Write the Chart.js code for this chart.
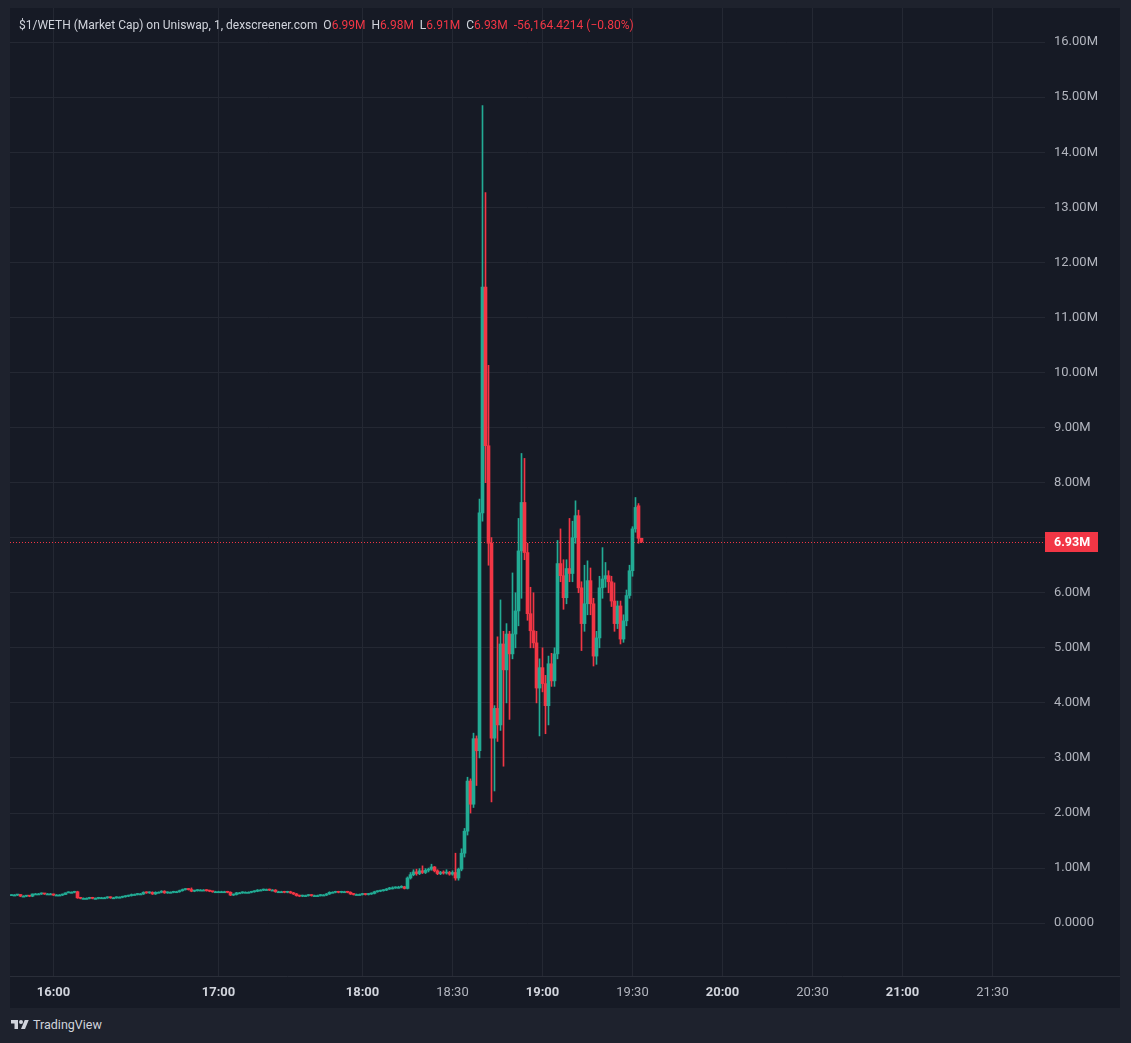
<!DOCTYPE html>
<html>
<head>
<meta charset="utf-8">
<script src="https://cdn.jsdelivr.net/npm/chart.js@4.4.1/dist/chart.umd.min.js"></script>
<style>
    html, body { margin: 0; padding: 0; background: #1e222d; }
    body { width: 1131px; height: 1043px; position: relative; overflow: hidden; font-family: Roboto, "Liberation Sans", sans-serif; }
    #panel { position: absolute; left: 10px; top: 8px; width: 1110px; height: 1000px; background: #161a25; }
    #legend { position: absolute; left: 19px; top: 18px; font-size: 12px; color: #d1d4dc; white-space: pre; z-index: 2; }
    #legend .v { color: #f23645; }
    #brand { position: absolute; left: 11px; top: 1017px; display: flex; align-items: center; gap: 4px; color: #d1d4dc; font-size: 12.5px; }
</style>
</head>
<body>
<div id="panel"><canvas id="chart"></canvas></div>
<div id="legend">$1/WETH (Market Cap) on Uniswap, 1, dexscreener.com  O<span class="v">6.99M</span>  H<span class="v">6.98M</span>  L<span class="v">6.91M</span>  C<span class="v">6.93M</span>  <span class="v">-56,164.4214 (−0.80%)</span></div>
<div id="brand">
    <svg width="18" height="13" viewBox="0 0 36 26"><path d="M14 22H7V11H0V4h14z" fill="#d1d4dc"/><circle cx="20" cy="8" r="4" fill="#d1d4dc"/><path d="M28 22h-8l7.5-18h8z" fill="#d1d4dc"/></svg>
    <span>TradingView</span>
</div>
<script>
// market cap in millions, one candle per traded minute
const opens = [
    0.50, 0.51, 0.51, 0.52, 0.49, 0.49, 0.50, 0.49, 0.53, 0.53,
    0.53, 0.54, 0.53, 0.53, 0.53, 0.51, 0.51, 0.51, 0.52, 0.55,
    0.56, 0.56, 0.57, 0.46, 0.45, 0.45, 0.45, 0.46, 0.45, 0.45,
    0.46, 0.46, 0.46, 0.47, 0.46, 0.46, 0.47, 0.47, 0.48, 0.49,
    0.50, 0.52, 0.52, 0.53, 0.53, 0.56, 0.55, 0.56, 0.53, 0.56,
    0.56, 0.58, 0.55, 0.56, 0.56, 0.57, 0.57, 0.59, 0.61, 0.62,
    0.61, 0.58, 0.59, 0.60, 0.60, 0.60, 0.59, 0.58, 0.57, 0.57,
    0.57, 0.57, 0.57, 0.56, 0.51, 0.52, 0.55, 0.55, 0.56, 0.56,
    0.56, 0.57, 0.58, 0.60, 0.60, 0.61, 0.61, 0.60, 0.60, 0.57,
    0.57, 0.57, 0.56, 0.57, 0.55, 0.53, 0.50, 0.49, 0.50, 0.50,
    0.51, 0.50, 0.50, 0.50, 0.51, 0.51, 0.53, 0.56, 0.56, 0.57,
    0.56, 0.57, 0.57, 0.56, 0.53, 0.52, 0.52, 0.52, 0.53, 0.52,
    0.53, 0.54, 0.57, 0.58, 0.59, 0.60, 0.62, 0.64, 0.64, 0.65,
    0.65, 0.66, 0.63, 0.82, 0.88, 0.93, 0.90, 0.95, 0.92, 0.96,
    0.98, 1.02, 0.95, 0.90, 0.92, 0.91, 0.92, 0.89, 0.92, 0.82,
    0.98, 1.27, 1.67, 2.58, 2.16, 3.35, 3.13, 7.45, 11.55, 8.67,
    6.90, 3.36, 3.90, 3.60, 5.07, 4.60, 5.25, 4.89, 5.25, 5.67,
    6.76, 7.64, 6.73, 5.62, 5.31, 5.09, 4.27, 4.64, 4.35, 3.95,
    4.71, 4.40, 4.89, 6.53, 6.31, 5.91, 6.44, 6.35, 7.00, 7.40,
    6.09, 5.44, 5.80, 6.22, 5.80, 4.85, 5.18, 6.09, 6.25, 6.31,
    6.20, 5.85, 5.44, 5.76, 5.16, 5.49, 5.95, 6.40, 7.16, 7.58,
    6.99,
];
const highs = [
    0.51, 0.52, 0.52, 0.52, 0.50, 0.50, 0.50, 0.53, 0.54, 0.54,
    0.55, 0.54, 0.54, 0.54, 0.53, 0.52, 0.52, 0.53, 0.55, 0.57,
    0.57, 0.58, 0.58, 0.47, 0.46, 0.46, 0.47, 0.47, 0.46, 0.47,
    0.47, 0.47, 0.48, 0.48, 0.47, 0.48, 0.48, 0.49, 0.50, 0.51,
    0.53, 0.53, 0.54, 0.54, 0.57, 0.57, 0.57, 0.57, 0.57, 0.57,
    0.59, 0.59, 0.57, 0.57, 0.58, 0.58, 0.60, 0.62, 0.63, 0.63,
    0.64, 0.60, 0.61, 0.61, 0.61, 0.61, 0.60, 0.58, 0.58, 0.58,
    0.58, 0.58, 0.58, 0.57, 0.53, 0.56, 0.56, 0.57, 0.57, 0.57,
    0.58, 0.59, 0.61, 0.61, 0.62, 0.62, 0.62, 0.61, 0.61, 0.58,
    0.58, 0.58, 0.58, 0.58, 0.56, 0.54, 0.51, 0.51, 0.51, 0.52,
    0.52, 0.51, 0.51, 0.52, 0.52, 0.54, 0.57, 0.57, 0.58, 0.58,
    0.58, 0.58, 0.58, 0.57, 0.54, 0.53, 0.53, 0.54, 0.54, 0.54,
    0.55, 0.58, 0.59, 0.60, 0.61, 0.63, 0.65, 0.66, 0.66, 0.67,
    0.68, 0.67, 0.84, 0.92, 0.97, 0.98, 0.99, 1.04, 0.99, 1.00,
    1.07, 1.03, 0.97, 0.94, 0.95, 0.97, 0.94, 0.95, 1.27, 1.00,
    1.35, 1.72, 2.65, 2.62, 3.45, 3.40, 7.70, 14.85, 13.27, 10.13,
    7.00, 3.95, 5.20, 5.87, 5.30, 5.44, 5.30, 6.36, 6.00, 7.35,
    8.53, 8.44, 6.90, 6.10, 6.00, 5.30, 4.80, 5.00, 4.50, 4.85,
    4.90, 5.00, 6.95, 7.16, 6.60, 6.60, 7.35, 7.30, 7.67, 7.50,
    6.20, 6.50, 6.58, 6.45, 5.90, 5.30, 6.30, 6.82, 6.55, 6.40,
    6.30, 6.18, 5.85, 5.85, 5.60, 6.05, 6.50, 7.20, 7.73, 7.62,
    6.99,
];
const lows = [
    0.50, 0.50, 0.50, 0.48, 0.48, 0.48, 0.48, 0.48, 0.52, 0.52,
    0.52, 0.52, 0.52, 0.52, 0.50, 0.50, 0.50, 0.50, 0.52, 0.55,
    0.55, 0.55, 0.45, 0.44, 0.44, 0.44, 0.44, 0.44, 0.44, 0.44,
    0.45, 0.45, 0.45, 0.45, 0.45, 0.45, 0.46, 0.46, 0.47, 0.48,
    0.49, 0.51, 0.51, 0.52, 0.52, 0.54, 0.54, 0.52, 0.52, 0.55,
    0.55, 0.54, 0.54, 0.55, 0.55, 0.56, 0.56, 0.58, 0.60, 0.60,
    0.57, 0.57, 0.58, 0.59, 0.59, 0.58, 0.57, 0.56, 0.56, 0.56,
    0.56, 0.56, 0.55, 0.50, 0.50, 0.51, 0.54, 0.54, 0.55, 0.55,
    0.55, 0.56, 0.57, 0.59, 0.59, 0.60, 0.59, 0.59, 0.56, 0.56,
    0.56, 0.55, 0.55, 0.54, 0.52, 0.49, 0.48, 0.48, 0.49, 0.49,
    0.49, 0.49, 0.49, 0.49, 0.50, 0.50, 0.52, 0.55, 0.55, 0.55,
    0.55, 0.56, 0.55, 0.52, 0.51, 0.51, 0.51, 0.51, 0.51, 0.51,
    0.52, 0.53, 0.56, 0.57, 0.58, 0.59, 0.61, 0.62, 0.63, 0.64,
    0.64, 0.62, 0.62, 0.80, 0.86, 0.87, 0.88, 0.90, 0.90, 0.93,
    0.96, 0.93, 0.88, 0.88, 0.89, 0.89, 0.87, 0.87, 0.78, 0.78,
    0.95, 1.20, 1.60, 2.00, 2.10, 2.50, 3.00, 7.30, 8.00, 6.50,
    2.20, 2.40, 3.30, 3.50, 2.85, 4.00, 3.70, 4.80, 5.00, 5.40,
    5.90, 6.60, 5.50, 5.00, 5.00, 4.00, 3.40, 4.20, 3.44, 3.60,
    4.30, 4.30, 4.80, 6.20, 5.70, 5.80, 6.20, 6.20, 6.90, 6.00,
    4.95, 5.30, 5.60, 5.60, 4.67, 4.70, 5.00, 5.90, 6.10, 6.00,
    5.75, 5.30, 5.35, 5.07, 5.10, 5.40, 5.90, 6.30, 7.10, 6.90,
    6.91,
];
const closes = [
    0.51, 0.51, 0.52, 0.49, 0.49, 0.50, 0.49, 0.53, 0.53, 0.53,
    0.54, 0.53, 0.53, 0.53, 0.51, 0.51, 0.51, 0.52, 0.55, 0.56,
    0.56, 0.57, 0.46, 0.45, 0.45, 0.45, 0.46, 0.45, 0.45, 0.46,
    0.46, 0.46, 0.47, 0.46, 0.46, 0.47, 0.47, 0.48, 0.49, 0.50,
    0.52, 0.52, 0.53, 0.53, 0.56, 0.55, 0.56, 0.53, 0.56, 0.56,
    0.58, 0.55, 0.56, 0.56, 0.57, 0.57, 0.59, 0.61, 0.62, 0.61,
    0.58, 0.59, 0.60, 0.60, 0.60, 0.59, 0.58, 0.57, 0.57, 0.57,
    0.57, 0.57, 0.56, 0.51, 0.52, 0.55, 0.55, 0.56, 0.56, 0.56,
    0.57, 0.58, 0.60, 0.60, 0.61, 0.61, 0.60, 0.60, 0.57, 0.57,
    0.57, 0.56, 0.57, 0.55, 0.53, 0.50, 0.49, 0.50, 0.50, 0.51,
    0.50, 0.50, 0.50, 0.51, 0.51, 0.53, 0.56, 0.56, 0.57, 0.56,
    0.57, 0.57, 0.56, 0.53, 0.52, 0.52, 0.52, 0.53, 0.52, 0.53,
    0.54, 0.57, 0.58, 0.59, 0.60, 0.62, 0.64, 0.64, 0.65, 0.65,
    0.66, 0.63, 0.82, 0.88, 0.93, 0.90, 0.95, 0.92, 0.96, 0.98,
    1.02, 0.95, 0.90, 0.92, 0.91, 0.92, 0.89, 0.92, 0.82, 0.98,
    1.27, 1.67, 2.58, 2.16, 3.35, 3.13, 7.45, 11.55, 8.67, 6.90,
    3.36, 3.90, 3.60, 5.07, 4.60, 5.25, 4.89, 5.25, 5.67, 6.76,
    7.64, 6.73, 5.62, 5.31, 5.09, 4.27, 4.64, 4.35, 3.95, 4.71,
    4.40, 4.89, 6.53, 6.31, 5.91, 6.44, 6.35, 7.00, 7.40, 6.09,
    5.44, 5.80, 6.22, 5.80, 4.85, 5.18, 6.09, 6.25, 6.31, 6.20,
    5.85, 5.44, 5.76, 5.16, 5.49, 5.95, 6.40, 7.16, 7.55, 6.99,
    6.93,
];

// bar slots on the time axis (traded minutes + empty future slots)
const SLOT_COUNT = 345;
const timeTickSlots = [14, 69, 117, 147, 177, 207, 237, 267, 297, 327];
const timeTickLabels = ["16:00", "17:00", "18:00", "18:30", "19:00", "19:30", "20:00", "20:30", "21:00", "21:30"];

const priceTicks = [0, 1, 2, 3, 4, 5, 6, 7, 8, 9, 10, 11, 12, 13, 14, 15, 16];
const priceLabels = ["0.0000", "1.00M", "2.00M", "3.00M", "4.00M", "5.00M", "6.00M", "7.00M", "8.00M",
    "9.00M", "10.00M", "11.00M", "12.00M", "13.00M", "14.00M", "15.00M", "16.00M"];
const Y_MIN = -0.96;
const Y_MAX = 16.62;

const UP = "#22ab94";
const DOWN = "#f23645";
const GRID = "#242833";
const AXIS_FONT = "Roboto, 'Liberation Sans', sans-serif";

const slotLabels = Array(SLOT_COUNT).fill("");
timeTickSlots.forEach((slot, i) => { slotLabels[slot] = timeTickLabels[i]; });

const candleColors = closes.map((c, i) => (c >= opens[i] ? UP : DOWN));
const lastClose = closes[closes.length - 1];

const noPadding = (axis) => {
    axis.paddingTop = 0;
    axis.paddingBottom = 0;
    axis.paddingLeft = 0;
    axis.paddingRight = 0;
};

const lastPricePlugin = {
    id: "lastPrice",
    beforeDatasetsDraw(chart) {
        const { ctx, chartArea, scales } = chart;
        const y = Math.round(scales.y.getPixelForValue(lastClose)) + 0.5;
        ctx.save();
        ctx.strokeStyle = DOWN;
        ctx.lineWidth = 1;
        ctx.setLineDash([1, 2]);
        ctx.beginPath();
        ctx.moveTo(chartArea.left, y);
        ctx.lineTo(chartArea.right, y);
        ctx.stroke();
        ctx.restore();
    },
    afterDraw(chart) {
        const { ctx, chartArea, scales, width } = chart;
        const y = Math.round(scales.y.getPixelForValue(lastClose));
        ctx.save();
        ctx.strokeStyle = "#2a2e39";
        ctx.beginPath();
        ctx.moveTo(0, chartArea.bottom + 0.5);
        ctx.lineTo(width, chartArea.bottom + 0.5);
        ctx.stroke();
        ctx.fillStyle = DOWN;
        ctx.fillRect(chartArea.right, y - 10, 53, 20);
        ctx.fillStyle = "#ffffff";
        ctx.font = "bold 12.5px " + AXIS_FONT;
        ctx.textBaseline = "middle";
        ctx.fillText(lastClose.toFixed(2) + "M", chartArea.right + 9, y + 1);
        ctx.restore();
    },
};

new Chart(document.getElementById("chart"), {
    type: "bar",
    data: {
        labels: slotLabels,
        datasets: [
            {
                label: "body",
                data: opens.map((o, i) => [o, closes[i]]),
                backgroundColor: candleColors,
                barThickness: 3,
                minBarLength: 1,
            },
            {
                label: "wick",
                data: lows.map((l, i) => [l, highs[i]]),
                backgroundColor: candleColors,
                barThickness: 1,
                minBarLength: 1,
            },
        ],
    },
    options: {
        responsive: true,
        maintainAspectRatio: false,
        animation: false,
        events: [],
        grouped: false,
        layout: { padding: 0 },
        plugins: {
            legend: { display: false },
            tooltip: { enabled: false },
        },
        scales: {
            x: {
                offset: true,
                afterFit: (axis) => { axis.height = 32; noPadding(axis); },
                grid: {
                    offset: false,
                    drawTicks: false,
                    color: (ctx) => (slotLabels[ctx.index] ? GRID : "rgba(0,0,0,0)"),
                },
                border: { display: false },
                ticks: {
                    autoSkip: false,
                    maxRotation: 0,
                    padding: 9,
                    callback: (value, index) => slotLabels[index],
                    color: (ctx) => (String(ctx.tick.label).endsWith(":00") ? "#d1d4dc" : "#b2b5be"),
                    font: (ctx) => ({
                        family: AXIS_FONT,
                        size: 13,
                        weight: String(ctx.tick.label).endsWith(":00") ? "bold" : "normal",
                    }),
                },
            },
            y: {
                position: "right",
                min: Y_MIN,
                max: Y_MAX,
                afterBuildTicks: (axis) => { axis.ticks = priceTicks.map((v) => ({ value: v })); },
                afterFit: (axis) => { axis.width = 75; noPadding(axis); },
                grid: { color: GRID, drawTicks: false },
                border: { display: false },
                ticks: {
                    padding: 9,
                    color: "#b2b5be",
                    font: { family: AXIS_FONT, size: 13 },
                    callback: (value, index) => priceLabels[index],
                },
            },
        },
    },
    plugins: [lastPricePlugin],
});
</script>
</body>
</html>
